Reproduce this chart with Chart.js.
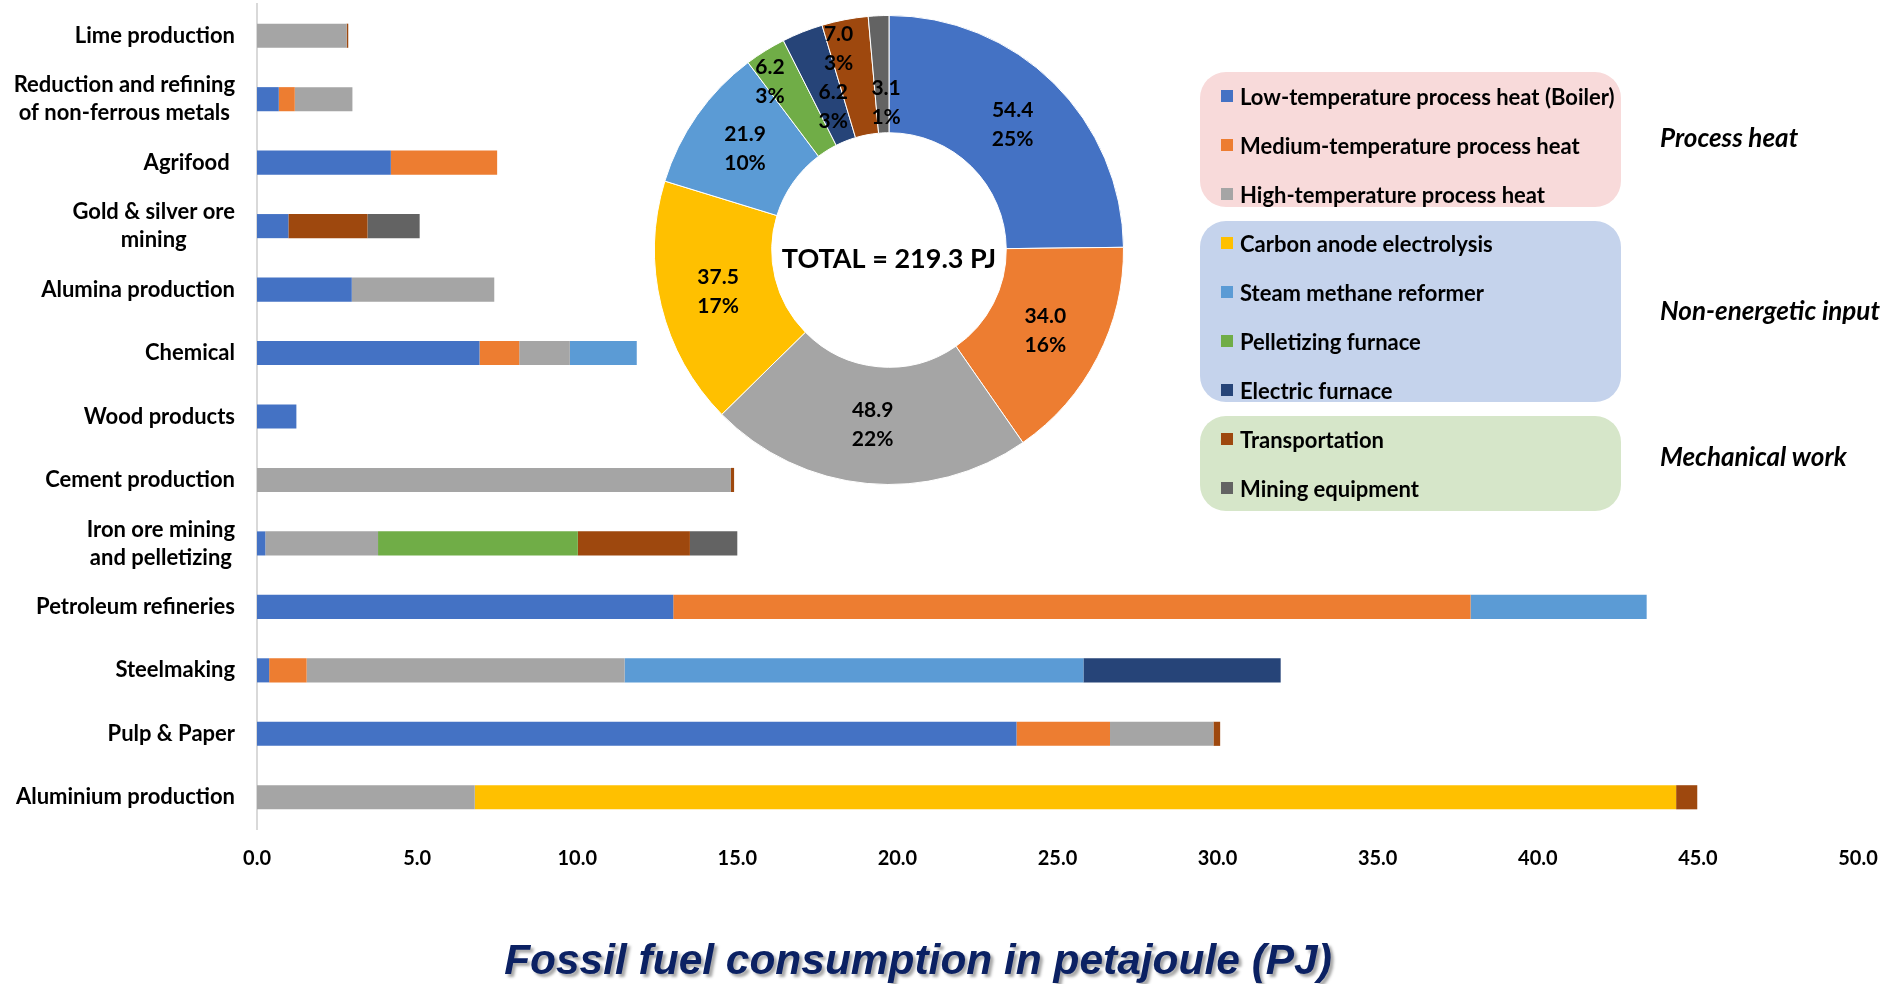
<!DOCTYPE html>
<html>
<head>
  <title>Fossil fuel consumption in petajoule (PJ)</title>
  <script src="https://cdn.jsdelivr.net/npm/chart.js"></script>
  <style>
    body {
      margin: 0;
      width: 1882px;
      height: 984px;
      position: relative;
      overflow: hidden;
      background: #fff;
      font-family: Lato, 'Open Sans', sans-serif;
    }
    #barWrap { position: absolute; left: 0; top: 0; width: 1882px; height: 984px; }
    #pieWrap { position: absolute; left: 649px; top: 10px; width: 480px; height: 480px; }
    .group-box {
      position: absolute;
      left: 1200px;
      width: 421px;
      border-radius: 26px;
    }
    .group-name {
      position: absolute;
      left: 1660px;
      font-size: 26px;
      font-weight: bold;
      font-style: italic;
      line-height: 30px;
      margin-top: -15px;
      white-space: nowrap;
    }
    .legend-item {
      position: absolute;
      left: 1221px;
      height: 26px;
      margin-top: -13px;
      display: flex;
      align-items: center;
      font-size: 22px;
      font-weight: bold;
      white-space: nowrap;
    }
    .legend-item span.box {
      display: inline-block;
      width: 12px;
      height: 12px;
      margin-right: 7px;
    }
    .title {
      position: absolute;
      left: 918px;
      top: 959px;
      height: 0;
      line-height: 0;
      transform: translateX(-50%) scaleX(0.987);
      font-family: 'Liberation Sans', Arial, sans-serif;
      font-size: 43px;
      font-weight: bold;
      font-style: italic;
      color: #0b2163;
      text-shadow: 3px 3px 3px rgba(0,0,0,0.35);
      white-space: nowrap;
    }
  </style>
</head>
<body>
  <div id="barWrap"><canvas id="barChart"></canvas></div>

  <div class="group-box" style="top:72px;height:135px;background:#f8dada;"></div>
  <div class="group-box" style="top:221px;height:181px;background:#c5d3ec;"></div>
  <div class="group-box" style="top:416px;height:95px;background:#d6e6c9;"></div>
  <div id="legend"></div>

  <div id="pieWrap"><canvas id="pieChart"></canvas></div>

  <div class="title">Fossil fuel consumption in petajoule (PJ)</div>

  <script>
    const categories = [
      'Lime production',
      ['Reduction and refining', 'of non-ferrous metals'],
      'Agrifood ',
      ['Gold & silver ore', 'mining'],
      'Alumina production',
      'Chemical',
      'Wood products',
      'Cement production',
      ['Iron ore mining', 'and pelletizing'],
      'Petroleum refineries',
      'Steelmaking',
      'Pulp & Paper',
      'Aluminium production'
    ];

    const seriesNames = [
      'Low-temperature process heat (Boiler)',
      'Medium-temperature process heat',
      'High-temperature process heat',
      'Carbon anode electrolysis',
      'Steam methane reformer',
      'Pelletizing furnace',
      'Electric furnace',
      'Transportation',
      'Mining equipment'
    ];
    const seriesColors = ['#4472c4', '#ed7d31', '#a5a5a5', '#ffc000', '#5b9bd5', '#70ad47', '#264478', '#9e480e', '#636363'];

    // PJ per sector, same order as categories
    const lowTemp         = [0, 0.68, 4.18, 0.98, 2.96, 6.95, 1.23, 0, 0.26, 13.0, 0.38, 23.72, 0];
    const mediumTemp      = [0, 0.50, 3.32, 0, 0, 1.24, 0, 0, 0, 24.9, 1.17, 2.92, 0];
    const highTemp        = [2.8, 1.80, 0, 0, 4.45, 1.58, 0, 14.8, 3.52, 0, 9.93, 3.23, 6.8];
    const carbonAnode     = [0, 0, 0, 0, 0, 0, 0, 0, 0, 0, 0, 0, 37.52];
    const steamReformer   = [0, 0, 0, 0, 0, 2.09, 0, 0, 0, 5.5, 14.33, 0, 0];
    const pelletizing     = [0, 0, 0, 0, 0, 0, 0, 0, 6.24, 0, 0, 0, 0];
    const electricFurnace = [0, 0, 0, 0, 0, 0, 0, 0, 0, 0, 6.16, 0, 0];
    const transportation  = [0.05, 0, 0, 2.47, 0, 0, 0, 0.1, 3.5, 0, 0, 0.21, 0.66];
    const miningEquip     = [0, 0, 0, 1.63, 0, 0, 0, 0, 1.48, 0, 0, 0, 0];

    const seriesData = [lowTemp, mediumTemp, highTemp, carbonAnode, steamReformer,
                        pelletizing, electricFurnace, transportation, miningEquip];

    // doughnut totals as printed on the chart
    const pieTotals = [54.4, 34.0, 48.9, 37.5, 21.9, 6.2, 6.2, 7.0, 3.1];
    const totalPJ = 219.3;

    const groups = [
      { name: 'Process heat', y: 137 },
      { name: 'Non-energetic input', y: 310 },
      { name: 'Mechanical work', y: 456 }
    ];

    // label spot inside each slice: [angle fraction, radial fraction]
    const sliceLabelSpot = [[0.5, 0.5], [0.5, 0.5], [0.5, 0.5], [0.5, 0.5], [0.5, 0.5],
                            [0.17, 0.76], [0.54, 0.31], [0.22, 0.77], [0.78, 0.26]];

    // legend
    const legend = document.getElementById('legend');
    seriesNames.forEach((name, i) => {
      const item = document.createElement('div');
      item.className = 'legend-item';
      item.style.top = (96 + 49 * i) + 'px';
      item.innerHTML = `<span class="box" style="background:${seriesColors[i]}"></span>${name}`;
      legend.appendChild(item);
    });
    groups.forEach(g => {
      const d = document.createElement('div');
      d.className = 'group-name';
      d.style.top = g.y + 'px';
      d.textContent = g.name;
      legend.appendChild(d);
    });

    // y labels: each block right aligned, its lines centred on each other
    const categoryLabels = {
      id: 'categoryLabels',
      afterDraw(chart) {
        const ctx = chart.ctx;
        const yScale = chart.scales.y;
        const right = chart.chartArea.left - 22;
        ctx.save();
        ctx.font = 'bold 22px Lato';
        ctx.fillStyle = '#000';
        ctx.textAlign = 'center';
        ctx.textBaseline = 'middle';
        categories.forEach((lab, i) => {
          const lines = Array.isArray(lab) ? lab : [lab];
          const w = Math.max(...lines.map(l => ctx.measureText(l).width));
          const cy = yScale.getPixelForValue(i);
          lines.forEach((l, j) => {
            ctx.fillText(l, right - w / 2, cy + (j - (lines.length - 1) / 2) * 28);
          });
        });
        ctx.restore();
      }
    };

    new Chart(document.getElementById('barChart'), {
      type: 'bar',
      data: {
        labels: categories,
        datasets: seriesData.map((d, i) => ({
          label: seriesNames[i],
          data: d,
          backgroundColor: seriesColors[i],
          borderWidth: 0,
          barPercentage: 0.38,
          categoryPercentage: 1
        }))
      },
      options: {
        indexAxis: 'y',
        responsive: true,
        maintainAspectRatio: false,
        animation: false,
        layout: { padding: { top: 4, right: 24, bottom: 95, left: 0 } },
        scales: {
          x: {
            stacked: true,
            min: 0,
            max: 50,
            grid: { display: false, drawTicks: false },
            border: { display: false },
            ticks: {
              stepSize: 5,
              padding: 18,
              color: '#000',
              font: { family: 'Lato', size: 20, weight: 'bold' },
              callback: v => v.toFixed(1)
            },
            afterFit: s => { s.height = 60; s.paddingLeft = 0; s.paddingRight = 0; }
          },
          y: {
            stacked: true,
            grid: { display: false, drawTicks: false },
            border: { display: true, color: '#d9d9d9', width: 2 },
            ticks: { display: false },
            afterFit: s => { s.width = 257; }
          }
        },
        plugins: {
          legend: { display: false },
          tooltip: { enabled: false }
        }
      },
      plugins: [categoryLabels]
    });

    const sliceLabels = {
      id: 'sliceLabels',
      afterDraw(chart) {
        const ctx = chart.ctx;
        const meta = chart.getDatasetMeta(0);
        const sum = pieTotals.reduce((a, b) => a + b, 0);
        ctx.save();
        ctx.font = 'bold 21px Lato';
        ctx.fillStyle = '#000';
        ctx.textAlign = 'center';
        ctx.textBaseline = 'middle';
        meta.data.forEach((arc, i) => {
          const [fa, fr] = sliceLabelSpot[i];
          const ang = arc.startAngle + fa * (arc.endAngle - arc.startAngle);
          const r = arc.innerRadius + fr * (arc.outerRadius - arc.innerRadius);
          const x = arc.x + Math.cos(ang) * r;
          const y = arc.y + Math.sin(ang) * r;
          ctx.fillText(pieTotals[i].toFixed(1), x, y - 14.5);
          ctx.fillText(Math.round(pieTotals[i] / sum * 100) + '%', x, y + 14.5);
        });
        // centre text
        const c = meta.data[0];
        ctx.font = 'bold 27px Lato';
        ctx.fillText('TOTAL = ' + totalPJ.toFixed(1) + ' PJ', c.x, c.y + 9);
        ctx.restore();
      }
    };

    new Chart(document.getElementById('pieChart'), {
      type: 'doughnut',
      data: {
        labels: seriesNames,
        datasets: [{
          data: pieTotals,
          backgroundColor: seriesColors,
          borderColor: '#fff',
          borderWidth: 1
        }]
      },
      options: {
        responsive: true,
        maintainAspectRatio: false,
        animation: false,
        cutout: '50%',
        layout: { padding: 5 },
        plugins: {
          legend: { display: false },
          tooltip: { enabled: false }
        }
      },
      plugins: [sliceLabels]
    });
  </script>
</body>
</html>
